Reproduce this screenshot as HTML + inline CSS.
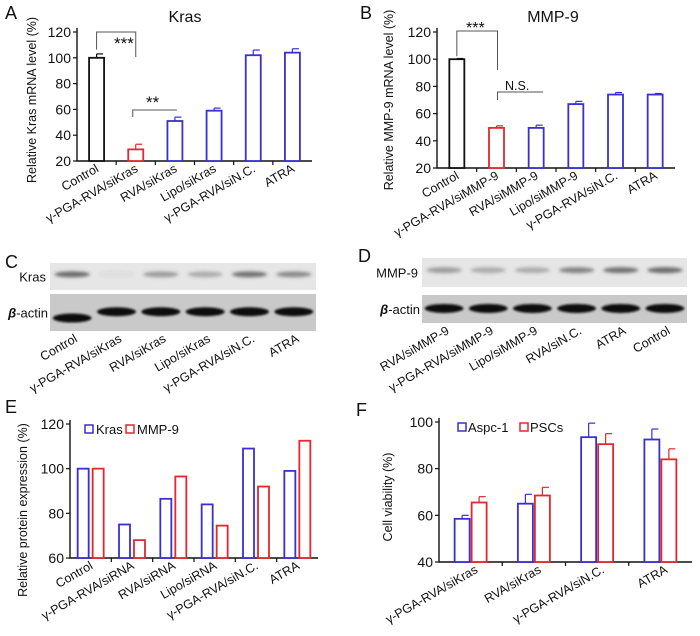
<!DOCTYPE html>
<html><head><meta charset="utf-8"><style>
html,body{margin:0;padding:0;background:#fff;}
svg{display:block;font-family:"Liberation Sans",sans-serif;}
</style></head><body>
<svg id="fig" width="700" height="636" viewBox="0 0 700 636">
<defs>
<filter id="blur1" x="-20%" y="-50%" width="140%" height="200%"><feGaussianBlur stdDeviation="1.6"/></filter>
<filter id="blur2" x="-20%" y="-50%" width="140%" height="200%"><feGaussianBlur stdDeviation="1"/></filter>
</defs>
</svg>
<script>
// ---------- Data ----------
const catsA = ["Control","γ-PGA-RVA/siKras","RVA/siKras","Lipo/siKras","γ-PGA-RVA/siN.C.","ATRA"];
const valsA = [100,29,51,59,102,104];
const errA = [3,4,3,2,4,3];
const catsB = ["Control","γ-PGA-RVA/siMMP-9","RVA/siMMP-9","Lipo/siMMP-9","γ-PGA-RVA/siN.C.","ATRA"];
const valsB = [100,49.5,49.5,67,74,74];
const errB = [0.5,1.5,2,2,1.5,0.8];
const ticksAB = [20,40,60,80,100,120];
const catsE = ["Control","γ-PGA-RVA/siRNA","RVA/siRNA","Lipo/siRNA","γ-PGA-RVA/siN.C.","ATRA"];
const krasE = [100,75,86.5,84,109,99];
const mmpE = [100,68,96.5,74.5,92,112.5];
const ticksE = [60,80,100,120];
const catsF = ["γ-PGA-RVA/siKras","RVA/siKras","γ-PGA-RVA/siN.C.","ATRA"];
const aspcF = [58.5,65,93.5,92.5];
const aspcErr = [1.5,4,6,4.5];
const pscF = [65.5,68.5,90.5,84];
const pscErr = [2.5,3.5,4.5,4.5];
const ticksF = [40,60,80,100];
const lanesC = ["Control","γ-PGA-RVA/siKras","RVA/siKras","Lipo/siKras","γ-PGA-RVA/siN.C.","ATRA"];
const krasBand = [0.75,0.05,0.45,0.35,0.7,0.55];
const lanesD = ["RVA/siMMP-9","γ-PGA-RVA/siMMP-9","Lipo/siMMP-9","RVA/siN.C.","ATRA","Control"];
const mmpBand = [0.45,0.35,0.35,0.6,0.7,0.75];

const BLUE="#3a2fd0", RED="#e0282e", BLK="#111";
const svg=document.getElementById('fig');
const NS="http://www.w3.org/2000/svg";
function mk(tag,attrs,parent){const e=document.createElementNS(NS,tag);for(const k in attrs)e.setAttribute(k,attrs[k]);(parent||svg).appendChild(e);return e;}
function txt(s,attrs,parent){const e=mk('text',attrs,parent);e.textContent=s;return e;}
function scale(d0,d1,r0,r1){return v=>r0+(v-d0)*(r1-r0)/(d1-d0);}

function axes(g,x0,x1,yTop,yBot,ticks,y,ncat,title,tx,ty){
  const ax=mk('path',{d:`M${x0},${yTop}V${yBot}H${x1}`,stroke:BLK,'stroke-width':1.4,fill:'none'},g);
  
  
  ticks.forEach(t=>{
    mk('line',{x1:x0-4,x2:x0,y1:y(t),y2:y(t),stroke:BLK,'stroke-width':1.2},g);
    const l=txt(String(t),{x:x0-6,y:y(t)+5,'text-anchor':'end','font-size':14,fill:'#111'},g);
    
    
  });
  const w=(x1-x0)/ncat;
  for(let i=1;i<ncat;i++) mk('line',{x1:x0+i*w,x2:x0+i*w,y1:yBot,y2:yBot+4,stroke:BLK,'stroke-width':1.2},g);
  const t=txt(title,{x:tx,y:ty,'text-anchor':'middle','font-size':12.5,fill:'#111',transform:`rotate(-90 ${tx} ${ty})`},g);
  
  
}
function xlabels(g,cats,cx,yb,dx){
  cats.forEach((c,i)=>{
    const x=cx(i)+dx, yy=yb+10;
    const l=txt(c,{x:x,y:yy,'text-anchor':'end','font-size':12.5,fill:'#111',transform:`rotate(-30 ${x} ${yy})`},g);
    
    
  });
}
function bar(g,xl,w,v,y,yb,col,err,name){
  const r=mk('rect',{x:xl,y:y(v),width:w,height:yb-y(v),fill:'#fff',stroke:col,'stroke-width':1.8},g);
  
  
  if(err!=null){
    const cx=xl+w/2, t=y(v+err);
    mk('line',{x1:cx,x2:cx,y1:y(v),y2:t,stroke:col,'stroke-width':1.2},g);
    mk('line',{x1:cx,x2:cx+w/2-1,y1:t,y2:t,stroke:col,'stroke-width':1.2},g);
  }
}
function label(s,x,y,size,name,anchor){const t=txt(s,{x:x,y:y,'font-size':size,fill:'#111','text-anchor':anchor||'start'});return t;}

// ---------- Panel A ----------
(function(){
  const g=mk('g',{});
  const x0=77,x1=312,yT=32,yB=161;const y=scale(20,120,yB,yT);const w=(x1-x0)/catsA.length;const cx=i=>x0+w*(i+0.5);
  axes(g,x0,x1,yT-4,yB,ticksAB,y,catsA.length,"Relative Kras mRNA level (%)",36,100);
  const cols=[BLK,RED,BLUE,BLUE,BLUE,BLUE];
  valsA.forEach((v,i)=>bar(g,cx(i)-7.5,15,v,y,yB,cols[i],errA[i],'bar-'+(i+1)));
  xlabels(g,catsA,cx,yB,3);
  mk('path',{d:`M${cx(0)},${y(104)-3}V32H${cx(1)}V57`,stroke:'#555','stroke-width':1,fill:'none'},g);
  label("***",114,49,17,'significance-stars');
  mk('path',{d:`M${cx(1)-3},117V110H${cx(2)+2}`,stroke:'#555','stroke-width':1,fill:'none'},g);
  label("**",146,108,17,'significance-stars');
})();
label("A",5,19,18,'panel-label-a');
label("Kras",185,22,16,'chart-title-a','middle');

// ---------- Panel B ----------
(function(){
  const g=mk('g',{});
  const x0=437,x1=675,yT=32,yB=168;const y=scale(20,120,yB,yT);const w=(x1-x0)/catsB.length;const cx=i=>x0+w*(i+0.5);
  axes(g,x0,x1,yT-4,yB,ticksAB,y,catsB.length,"Relative MMP-9 mRNA level (%)",393,100);
  const cols=[BLK,RED,BLUE,BLUE,BLUE,BLUE];
  valsB.forEach((v,i)=>bar(g,cx(i)-7.5,15,v,y,yB,cols[i],errB[i],'bar-'+(i+1)));
  xlabels(g,catsB,cx,yB,3);
  mk('path',{d:`M${cx(0)},${y(100)-3}V31H${cx(1)+1}V70`,stroke:'#555','stroke-width':1,fill:'none'},g);
  label("***",466,33,16,'significance-stars');
  mk('path',{d:`M${cx(1)+1},100V92H${cx(2)+7}`,stroke:'#555','stroke-width':1,fill:'none'},g);
  label("N.S.",505,90,12.5,'significance-ns');
})();
label("B",360,19,18,'panel-label-b');
label("MMP-9",553,22,16,'chart-title-b','middle');

// ---------- Blots ----------
function blot(x0,x1,y1,y2,y3,y4,lanes,vals,topName,actinOffsetFirst,name){
  const g=mk('g',{});
  mk('rect',{x:x0,y:y1,width:x1-x0,height:y2-y1,fill:'#e6e6e6'},g);
  mk('rect',{x:x0,y:y3,width:x1-x0,height:y4-y3,fill:'#c9c9c9'},g);
  const w=(x1-x0)/lanes.length;
  vals.forEach((v,i)=>{
    const cx=x0+w*(i+0.5);
    const e=mk('ellipse',{cx:cx,cy:y1+(y2-y1)*0.42,rx:w*0.4,ry:3,fill:'#444','fill-opacity':v,filter:'url(#blur1)'},g);
    
    const ay=y3+(y4-y3)*(i===0&&actinOffsetFirst?0.65:0.48);
    const a=mk('ellipse',{cx:cx,cy:ay,rx:w*0.44,ry:4.5,fill:'#111',filter:'url(#blur2)'},g);
    
  });
  label(topName,x0-4,(y1+y2)/2+5,13,'blot-row-label','end');
  const b=txt('',{x:x0-2,y:(y3+y4)/2+5,'font-size':13,fill:'#111','text-anchor':'end'});
  
  const ts=mk('tspan',{'font-style':'italic','font-weight':'bold'},b);ts.textContent='β';
  const ts2=mk('tspan',{},b);ts2.textContent='-actin';
  const gl=mk('g',{});
  xlabels(gl,lanes,i=>x0+w*(i+0.5),y4,6);
}
blot(50,316,263,290,294,331,lanesC,krasBand,"Kras",true,'western-blot-c');
blot(422,687,258,287,295,323,lanesD,mmpBand,"MMP-9",false,'western-blot-d');
label("C",5,268,18,'panel-label-c');
label("D",358,262,18,'panel-label-d');

// ---------- Panel E ----------
(function(){
  const g=mk('g',{});
  const x0=70,x1=318,yT=424,yB=558;const y=scale(60,120,yB,yT);const w=(x1-x0)/catsE.length;const cx=i=>x0+w*(i+0.5);
  axes(g,x0,x1,yT-4,yB,ticksE,y,catsE.length,"Relative protein expression (%)",27,510);
  krasE.forEach((v,i)=>bar(g,cx(i)-13,11,v,y,yB,BLUE,null,'bar-kras-'+(i+1)));
  mmpE.forEach((v,i)=>bar(g,cx(i)+2,11,v,y,yB,RED,null,'bar-mmp9-'+(i+1)));
  xlabels(g,catsE,cx,yB,3);
  const l1=mk('rect',{x:85,y:425,width:8,height:8,fill:'#fff',stroke:BLUE,'stroke-width':1.5},g);
  label("Kras",96,434,13,'legend-entry-kras');
  const l2=mk('rect',{x:126,y:425,width:8,height:8,fill:'#fff',stroke:RED,'stroke-width':1.5},g);
  label("MMP-9",137,434,13,'legend-entry-mmp9');
})();
label("E",5,413,18,'panel-label-e');

// ---------- Panel F ----------
(function(){
  const g=mk('g',{});
  const x0=439,x1=692,yT=422,yB=562;const y=scale(40,100,yB,yT);const w=(x1-x0)/catsF.length;const cx=i=>x0+w*(i+0.5);
  axes(g,x0,x1,yT-4,yB,ticksF,y,catsF.length,"Cell viability (%)",392,497);
  aspcF.forEach((v,i)=>bar(g,cx(i)-16,15,v,y,yB,BLUE,aspcErr[i],'bar-aspc1-'+(i+1)));
  pscF.forEach((v,i)=>bar(g,cx(i)+1,15,v,y,yB,RED,pscErr[i],'bar-pscs-'+(i+1)));
  xlabels(g,catsF,cx,yB,8);
  const l1=mk('rect',{x:458,y:423,width:8,height:8,fill:'#fff',stroke:BLUE,'stroke-width':1.5},g);
  label("Aspc-1",468,432,13,'legend-entry-aspc1');
  const l2=mk('rect',{x:520,y:423,width:8,height:8,fill:'#fff',stroke:RED,'stroke-width':1.5},g);
  label("PSCs",530,432,13,'legend-entry-pscs');
})();
label("F",356,416,18,'panel-label-f');
</script>
</body></html>
